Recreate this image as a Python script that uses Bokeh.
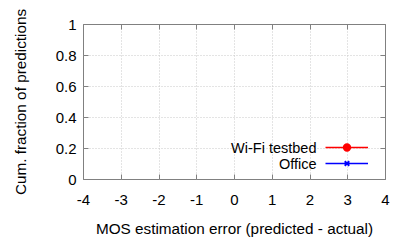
from bokeh.plotting import figure
from bokeh.models import (LinearAxis, Legend, LegendItem, Label, FixedTicker,
                          Range1d, CustomJSTickFormatter)
from bokeh.core.properties import value
from bokeh.embed import file_html
from bokeh.resources import INLINE

# ---- data (the curves are not visible in the reference; series hold no visible points) ----
nan = float("nan")
series_names = ["Wi-Fi testbed", "Office"]
series_colors = ["#ff0000", "#0000ff"]
series_markers = ["circle", "x"]
wifi_x = [nan]
wifi_y = [nan]
office_x = [nan]
office_y = [nan]
x_ticks = [-4, -3, -2, -1, 0, 1, 2, 3, 4]
y_ticks = [0, 0.2, 0.4, 0.6, 0.8, 1]
x_label = "MOS estimation error (predicted - actual)"
y_label = "Cum. fraction of predictions"

FONT = "Liberation Sans"
GREY = "#808080"
FS = "15px"

p = figure(width=393, height=240, output_backend="svg", toolbar_location=None,
           x_range=Range1d(-4, 4), y_range=Range1d(0, 1),
           min_border_left=83, min_border_right=8, min_border_top=24,
           min_border_bottom=61, x_axis_location=None, y_axis_location=None)
p.outline_line_color = GREY
p.outline_line_width = 1
p.background_fill_color = "white"
p.border_fill_color = "white"

fmt = CustomJSTickFormatter(code="return String(Math.round(tick*10)/10)")
blank = CustomJSTickFormatter(code="return ''")

def style_axis(ax, show_labels):
    ax.axis_line_color = None
    ax.major_tick_line_color = GREY
    ax.major_tick_in = 5
    ax.major_tick_out = 0
    ax.minor_tick_line_color = None
    ax.major_label_text_font = FONT
    ax.major_label_text_color = "black"
    ax.major_label_text_font_size = FS
    ax.axis_label_text_font = FONT
    ax.axis_label_text_font_style = "normal"
    ax.axis_label_text_color = "black"
    ax.axis_label_text_font_size = "15.3px"
    if not show_labels:
        ax.major_label_standoff = 0

xb = LinearAxis(ticker=FixedTicker(ticks=x_ticks), axis_label=x_label, formatter=fmt)
style_axis(xb, True)
xb.major_label_standoff = 15
xb.axis_label_standoff = 12
p.add_layout(xb, "below")

yl = LinearAxis(ticker=FixedTicker(ticks=y_ticks), axis_label=y_label, formatter=fmt)
style_axis(yl, True)
yl.major_label_standoff = 7
yl.axis_label_standoff = 24
p.add_layout(yl, "left")

xt = LinearAxis(ticker=FixedTicker(ticks=x_ticks), formatter=blank)
style_axis(xt, False)
p.add_layout(xt, "above")
yr = LinearAxis(ticker=FixedTicker(ticks=y_ticks), formatter=blank)
style_axis(yr, False)
p.add_layout(yr, "right")

p.xgrid.ticker = FixedTicker(ticks=x_ticks)
p.ygrid.ticker = FixedTicker(ticks=y_ticks)
for g in (p.xgrid, p.ygrid):
    g.grid_line_color = "#c8c8c8"
    g.grid_line_dash = "1 2"
    g.grid_line_width = 1

data = [(wifi_x, wifi_y), (office_x, office_y)]
items = []
for (xs, ys), name, col, mk in zip(data, series_names, series_colors, series_markers):
    ln = p.line(x=xs, y=ys, line_color=col, line_width=1.5)
    sc = p.scatter(x=xs, y=ys, marker=mk, size=10 if mk == "x" else 9,
                   line_color=col, fill_color=col, line_width=2)
    items.append(LegendItem(label=value(""), renderers=[ln, sc]))

legend = Legend(items=items, location=(242, 8), padding=0, margin=0, spacing=0,
                glyph_width=43, glyph_height=16, label_height=16, label_width=0,
                label_standoff=0, border_line_color=None, background_fill_alpha=0)
p.add_layout(legend, "center")

for i, name in enumerate(series_names):
    p.add_layout(Label(x=233, y=32 - 16 * i, x_units="screen", y_units="screen",
                       text=name, text_align="right", text_baseline="middle",
                       text_font=FONT, text_font_size="14.5px", text_color="black"))

open("out.html", "w").write(file_html(p, INLINE))
